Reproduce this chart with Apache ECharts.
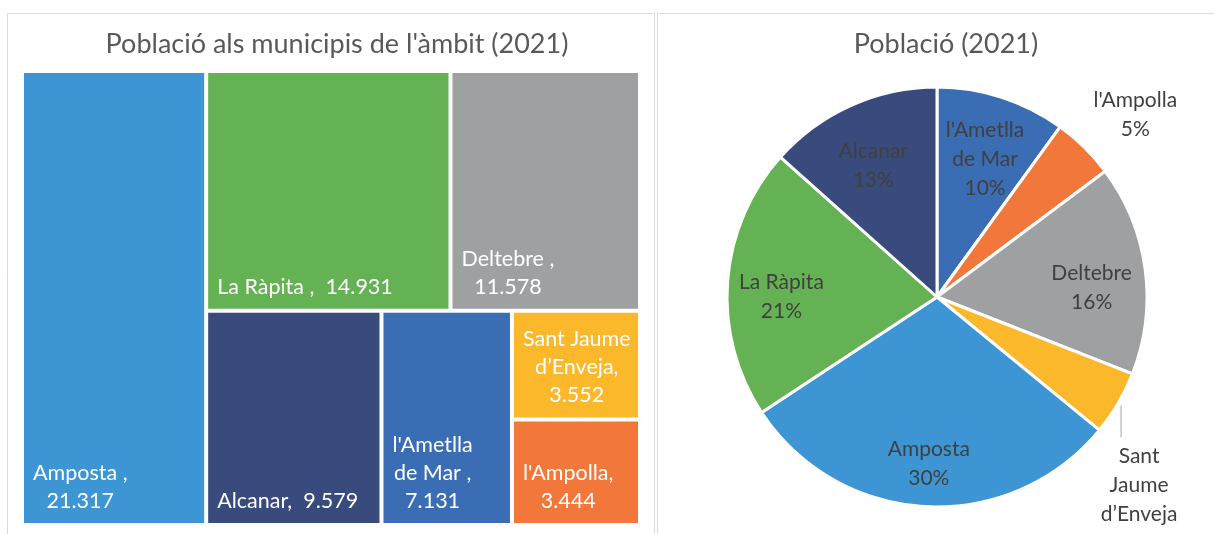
<!DOCTYPE html>
<html>
<head>
<meta charset="utf-8">
<title>Població (2021)</title>
<script src="https://cdn.jsdelivr.net/npm/echarts@6/dist/echarts.min.js"></script>
<style>
  html, body { margin: 0; padding: 0; background: #fff; }
  #chart { width: 1214px; height: 534px; }
</style>
</head>
<body>
<div id="chart"></div>
<script>
// dades: població per municipi (2021)
const municipis = ['Amposta', 'La Ràpita', 'Deltebre', 'Alcanar', "l'Ametlla de Mar", 'Sant Jaume d’Enveja', "l'Ampolla"];
const poblacio = [21317, 14931, 11578, 9579, 7131, 3552, 3444];
const colors = ['#3e95d3', '#65b255', '#9ea0a1', '#394a7c', '#3b6db4', '#fbb82b', '#f1783a'];

// textos del treemap (tal com surten a l'excel)
const tmNoms = ['Amposta ,', 'La Ràpita ,', 'Deltebre ,', 'Alcanar,', "l'Ametlla\nde Mar ,", 'Sant Jaume\nd’Enveja,', "l'Ampolla,"];
const tmSep = ['\n', '  ', '\n', '  ', '\n', '\n', '\n'];
// agrupació per reproduir la disposició del treemap
const tmGrups = [0, [[1, 2], [3, 4, [5, 6]]]];

// pastís: ordre horari des de dalt i noms de les etiquetes
const pieOrdre = [4, 6, 2, 5, 0, 1, 3];
const pieNoms = ['Amposta', 'La Ràpita', 'Deltebre', 'Alcanar', "l'Ametlla\nde Mar", 'Sant\nJaume\nd’Enveja', "l'Ampolla"];
const pieFora = [5, 6]; // etiquetes a fora

const FONT = 'Lato';
const TM_FONT_SIZE = 21.5;
const ctx = document.createElement('canvas').getContext('2d');
ctx.font = TM_FONT_SIZE + 'px ' + FONT;

function fmtMil(v) {
    return String(v).replace(/\B(?=(\d{3})+(?!\d))/g, '.');
}

function fulla(i) {
    const text = tmNoms[i] + tmSep[i] + fmtMil(poblacio[i]);
    const w = Math.max.apply(null, text.split('\n').map(function (l) { return ctx.measureText(l).width; }));
    return {
        name: municipis[i],
        value: poblacio[i],
        itemStyle: { color: colors[i], borderWidth: 2, borderColor: '#fff' },
        label: { formatter: text, position: [9 + w / 2, '100%'] }
    };
}

function node(g) {
    return Array.isArray(g) ? { name: '', children: g.map(node) } : fulla(g);
}

const pieData = pieOrdre.map(function (i) {
    return { name: pieNoms[i], value: poblacio[i], itemStyle: { color: colors[i] } };
});
const pieLabels = pieOrdre.map(function (i) {
    const item = { name: pieNoms[i], value: poblacio[i] };
    if (pieFora.indexOf(i) >= 0) {
        item.label = { position: 'outside' };
        item.labelLine = { show: true, length: 10, length2: 0 };
    }
    return item;
});

const chart = echarts.init(document.getElementById('chart'));

const titleStyle = { fontFamily: FONT, fontSize: 27, fontWeight: 'normal', color: '#595959' };

const option = {
    animation: false,
    title: [{
        text: "Població als municipis de l'àmbit (2021)",
        left: 332, top: 26, textAlign: 'center',
        textStyle: titleStyle
    }, {
        text: 'Població (2021)',
        left: 941, top: 26, textAlign: 'center',
        textStyle: titleStyle
    }],
    graphic: [{
        type: 'rect', silent: true, z: -1,
        shape: { x: 7.5, y: 13.5, width: 647, height: 560 },
        style: { fill: 'none', stroke: '#d9d9d9', lineWidth: 1 }
    }, {
        type: 'rect', silent: true, z: -1,
        shape: { x: 657.5, y: 13.5, width: 600, height: 560 },
        style: { fill: 'none', stroke: '#d9d9d9', lineWidth: 1 }
    }],
    series: [{
        type: 'treemap',
        left: 22, top: 71, width: 618, height: 454,
        roam: false,
        nodeClick: false,
        sort: false,
        squareRatio: 1,
        breadcrumb: { show: false },
        itemStyle: { borderWidth: 0, gapWidth: 0, borderColor: '#fff' },
        label: {
            show: true,
            color: '#fff',
            fontFamily: FONT,
            fontSize: TM_FONT_SIZE,
            lineHeight: 28,
            padding: 0,
            align: 'center',
            verticalAlign: 'bottom',
            offset: [0, -8]
        },
        emphasis: { disabled: true },
        data: node(tmGrups).children
    }, {
        type: 'pie',
        silent: true,
        center: [937, 297],
        radius: 210,
        startAngle: 90,
        clockwise: true,
        itemStyle: { borderColor: '#fff', borderWidth: 3 },
        label: { show: false },
        labelLine: { show: false },
        emphasis: { disabled: true },
        data: pieData
    }, {
        // capa transparent només per a les etiquetes
        type: 'pie',
        silent: true,
        center: [937, 297],
        radius: [96, 210],
        startAngle: 90,
        clockwise: true,
        avoidLabelOverlap: false,
        itemStyle: { color: 'rgba(0,0,0,0)', borderWidth: 0 },
        label: {
            show: true,
            position: 'inside',
            color: '#404040',
            fontFamily: FONT,
            fontSize: 21,
            lineHeight: 29,
            formatter: function (p) { return p.name + '\n' + Math.round(p.percent) + '%'; }
        },
        labelLine: { show: false, lineStyle: { color: '#a6a6a6', width: 1 } },
        labelLayout: function (p) {
            const i = pieOrdre[p.dataIndex];
            const pts = p.labelLinePoints;
            if (pieFora.indexOf(i) < 0) return { dy: 11 };
            if (!pts) return {};
            const x = pts[0][0], y = pts[0][1];
            if (i === 6) {
                return { x: x + 51, y: y - 33, align: 'center', verticalAlign: 'middle',
                    labelLinePoints: [[x, y], [x, y], [x, y]] };
            }
            return { x: x + 21, y: y + 38, align: 'center', verticalAlign: 'top',
                labelLinePoints: [[x + 3, y + 2], [x + 3, y + 34], [x + 3, y + 34]] };
        },
        emphasis: { disabled: true },
        data: pieLabels
    }]
};

chart.setOption(option);
</script>
</body>
</html>
